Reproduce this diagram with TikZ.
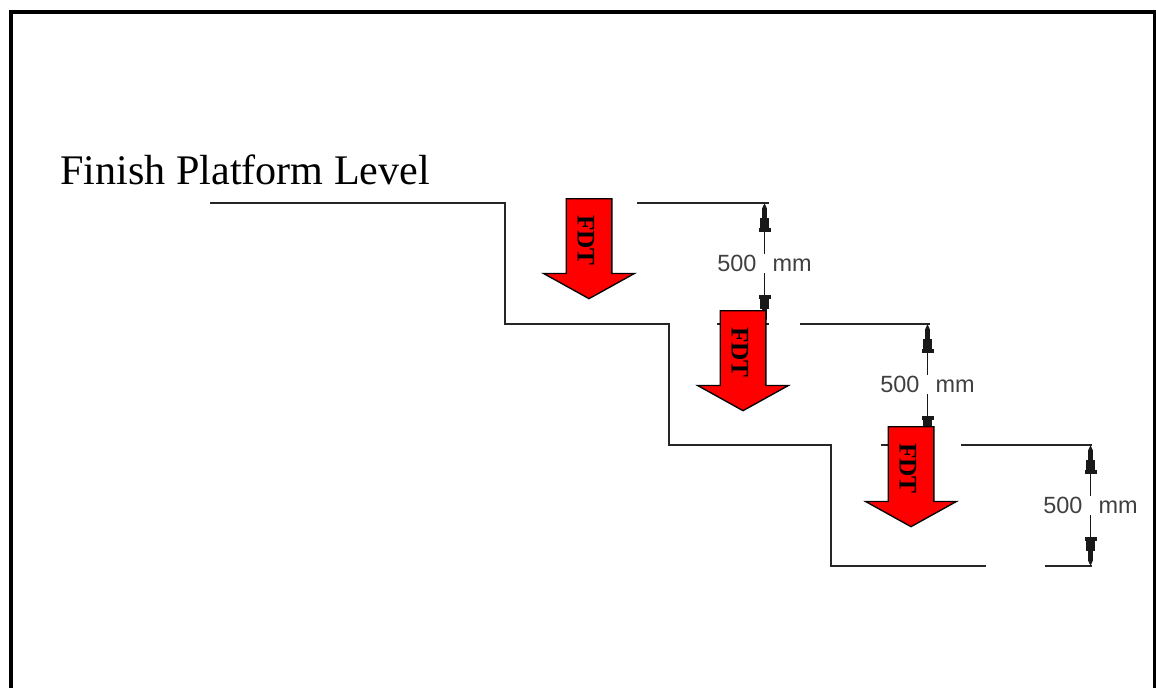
\documentclass[tikz,border=0pt]{standalone}
\usepackage{fontspec}
\setmainfont{Liberation Serif}
\setsansfont{Liberation Sans}
\usetikzlibrary{arrows.meta,shapes.arrows}

\newcommand{\fdtlabel}{\hspace*{-3pt}\raisebox{-2.25pt}[\height][0pt]{FDT}\hspace{13.5pt}}

\begin{document}
\begin{tikzpicture}[
  x=0.75pt, y=-0.75pt,
  frame/.style={line width=3pt, line cap=butt},
  level/.style={line width=1.2pt, black!85},
  dimlabel/.style={font=\sffamily\fontsize{17.6pt}{18pt}\selectfont, text=black!75,
    inner xsep=0pt, inner ysep=0.8pt},
  dimarr/.style={-{Rectangle[length=3pt, width=9pt] Rectangle[length=7.5pt, width=6.5pt]
    Rectangle[length=7.5pt, width=4pt] Triangle[length=3.75pt, width=3pt]},
    line width=1.3pt, black!90},
  fdt/.style={shape=single arrow, draw=black, fill=red, line width=1pt,
    inner xsep=0pt, inner ysep=10.4pt,
    anchor=tail, rotate=-90, single arrow head extend=16.9pt, single arrow tip angle=122,
    single arrow head indent=0pt, minimum width=66.6pt, minimum height=75pt,
    font=\bfseries\fontsize{19pt}{19pt}\selectfont},
  title/.style={font=\fontsize{31.6pt}{32pt}\selectfont, inner sep=0pt, anchor=base west}
]
  \useasboundingbox (0,0) rectangle (1156,688);
  \draw[frame] (11,688) -- (11,12) -- (1155,12) -- (1155,688);

  \node[title] (finish) at (60,185) {Finish Platform Level};

  % stepped ground line
  \coordinate (startA) at (210,203);
  \coordinate (endA) at (986,566);
  \draw[level] (startA) -| (505,324) -| (669,445) -| (831,566) -- (endA);

  % level lines
  \coordinate (lvlA) at (769,203);
  \coordinate (lvlB) at (930,324);
  \coordinate (lvlC) at (1092,445);
  \coordinate (lvlD) at (1092,566);
  \draw[level] (637,203) -- (lvlA);
  \draw[level] (717,324) -- (769,324);
  \draw[level] (800,324) -- (lvlB);
  \draw[level] (881,445) -- (933,445);
  \draw[level] (961,445) -- (lvlC);
  \draw[level] (1045,566) -- (lvlD);

  % dimensions
  \node[dimlabel] (dimA) at (764.5,263.5) {500\hspace{12pt}mm};
  \node[dimlabel] (dimB) at (927.5,384.5) {500\hspace{12pt}mm};
  \node[dimlabel] (dimC) at (1090.5,505.5) {500\hspace{12pt}mm};
  \draw[dimarr] (dimA) -- (dimA |- lvlA);
  \draw[dimarr] (dimA) -- (dimA |- lvlB);
  \draw[dimarr] (dimB) -- (dimB |- lvlB);
  \draw[dimarr] (dimB) -- (dimB |- lvlC);
  \draw[dimarr] (dimC) -- (dimC |- lvlC);
  \draw[dimarr] (dimC) -- (dimC |- lvlD);

  % FDT arrows
  \node[fdt] (fdtA) at (589,198) {\fdtlabel};
  \node[fdt] (fdtB) at (743,310) {\fdtlabel};
  \node[fdt] (fdtC) at (911,426) {\fdtlabel};
\end{tikzpicture}
\end{document}
